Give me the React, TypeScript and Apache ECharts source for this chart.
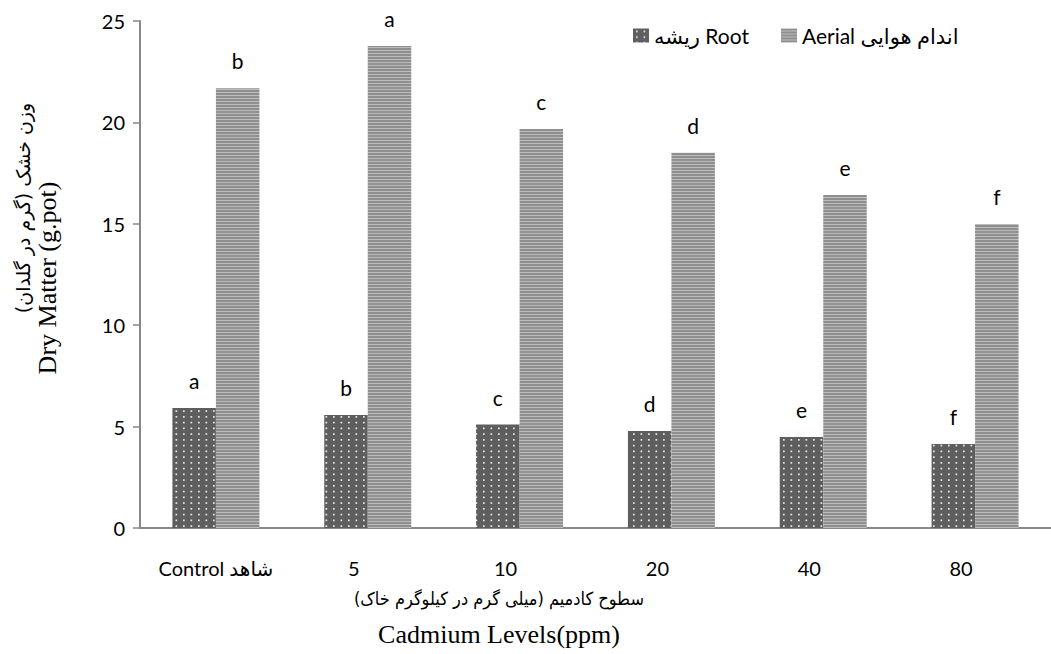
import React, { useEffect, useRef } from "react";
import * as echarts from "echarts";

const categories = ["Control شاهد", "5", "10", "20", "40", "80"];
const rootValues = [5.92, 5.57, 5.1, 4.78, 4.49, 4.14];
const aerialValues = [21.68, 23.77, 19.67, 18.5, 16.42, 14.99];
const rootLetters = ["a", "b", "c", "d", "e", "f"];
const aerialLetters = ["b", "a", "c", "d", "e", "f"];
const seriesNames = ["ریشه Root", "Aerial اندام هوایی"];
const yTitleFa = "وزن خشک (گرم در گلدان)\u200F";
const yTitleEn = "Dry Matter (g.pot)";
const xTitleFa = "سطوح کادمیم (میلی گرم در کیلوگرم خاک)\u200F";
const xTitleEn = "Cadmium Levels(ppm)";

const SANS = "Lato, 'DejaVu Sans', sans-serif";
const SERIF = "'Liberation Serif', 'DejaVu Serif', serif";

function makeDotPattern(): HTMLCanvasElement {
  const c = document.createElement("canvas");
  c.width = 15;
  c.height = 23;
  const g = c.getContext("2d")!;
  g.fillStyle = "#5e5e5e";
  g.fillRect(0, 0, 15, 23);
  g.fillStyle = "#e6e6e6";
  const xs = [3, 10.5];
  const ys = [2, 7.75, 13.5, 19.25];
  ys.forEach((y) => {
    xs.forEach((x) => {
      g.fillRect(x, y, 1.7, 1.7);
    });
  });
  return c;
}

function makeStripePattern(): HTMLCanvasElement {
  const c = document.createElement("canvas");
  c.width = 4;
  c.height = 3;
  const g = c.getContext("2d")!;
  g.fillStyle = "#8f8f8f";
  g.fillRect(0, 0, 4, 2);
  g.fillStyle = "#bdbdbd";
  g.fillRect(0, 2, 4, 1);
  return c;
}

export default function App() {
  const ref = useRef<HTMLDivElement>(null);
  useEffect(() => {
    if (!ref.current) return;
    const chart = echarts.init(ref.current, undefined, { renderer: "svg" });
    const dot = makeDotPattern();
    const stripe = makeStripePattern();
    const rootColor: any = { image: dot, repeat: "repeat", imageWidth: 15, imageHeight: 23 };
    const aerialColor: any = { image: stripe, repeat: "repeat", imageWidth: 4, imageHeight: 3 };

    const option: any = {
      animation: false,
      backgroundColor: "#ffffff",
      grid: { left: 140, top: 21, width: 917, height: 507, containLabel: false },
      legend: {
        left: 628,
        top: 20,
        icon: "rect",
        itemWidth: 16,
        itemHeight: 14,
        itemGap: 32,
        textStyle: { fontFamily: SANS, fontSize: 21, color: "#000" },
        data: seriesNames,
      },
      xAxis: {
        type: "category",
        data: categories,
        axisLine: { lineStyle: { color: "#888888", width: 2 } },
        axisTick: { show: false },
        axisLabel: {
          interval: 0,
          margin: 30,
          fontFamily: SANS,
          fontSize: 20,
          color: "#000",
          formatter: (v: string) => (/^\d+$/.test(v) ? "{n|" + v + "}" : v),
          rich: { n: { fontFamily: SANS, fontSize: 20, color: "#000", padding: [0, 28, 0, 0] } },
        },
      },
      yAxis: {
        type: "value",
        min: 0,
        max: 25,
        interval: 5,
        splitLine: { show: false },
        axisLine: { show: true, lineStyle: { color: "#888888", width: 2 } },
        axisTick: { show: true, inside: false, length: 7, lineStyle: { color: "#888888", width: 1.5 } },
        axisLabel: { margin: 15, fontFamily: SANS, fontSize: 20, color: "#000" },
      },
      series: [
        {
          name: seriesNames[0],
          type: "bar",
          data: rootValues,
          barWidth: 43.5,
          barGap: "0%",
          itemStyle: { color: rootColor },
          label: {
            show: true,
            position: "top",
            distance: 17,
            fontFamily: SANS,
            fontSize: 21,
            color: "#000",
            formatter: (p: any) => rootLetters[p.dataIndex],
          },
        },
        {
          name: seriesNames[1],
          type: "bar",
          data: aerialValues,
          barWidth: 43.5,
          barGap: "0%",
          itemStyle: { color: aerialColor },
          label: {
            show: true,
            position: "top",
            distance: 17,
            fontFamily: SANS,
            fontSize: 21,
            color: "#000",
            formatter: (p: any) => aerialLetters[p.dataIndex],
          },
        },
      ],
      graphic: [
        {
          type: "text",
          x: 23,
          y: 208,
          rotation: Math.PI / 2,
          style: {
            text: yTitleFa,
            font: "19px 'DejaVu Sans', sans-serif",
            fill: "#000",
            align: "center",
            verticalAlign: "middle",
          },
        },
        {
          type: "text",
          x: 47,
          y: 278,
          rotation: Math.PI / 2,
          style: {
            text: yTitleEn,
            font: "26px " + SERIF,
            fill: "#000",
            align: "center",
            verticalAlign: "middle",
          },
        },
        {
          type: "text",
          x: 499,
          y: 598,
          style: {
            text: xTitleFa,
            font: "18px 'DejaVu Sans Condensed', 'DejaVu Sans', sans-serif",
            fill: "#000",
            align: "center",
            verticalAlign: "middle",
          },
        },
        {
          type: "text",
          x: 499,
          y: 634,
          style: {
            text: xTitleEn,
            font: "26px " + SERIF,
            fill: "#000",
            align: "center",
            verticalAlign: "middle",
          },
        },
      ],
    };
    chart.setOption(option);
    return () => chart.dispose();
  }, []);
  return (
    <div
      ref={ref}
      style={{ position: "fixed", left: 0, top: 0, width: 1051, height: 654, background: "#fff" }}
    />
  );
}
